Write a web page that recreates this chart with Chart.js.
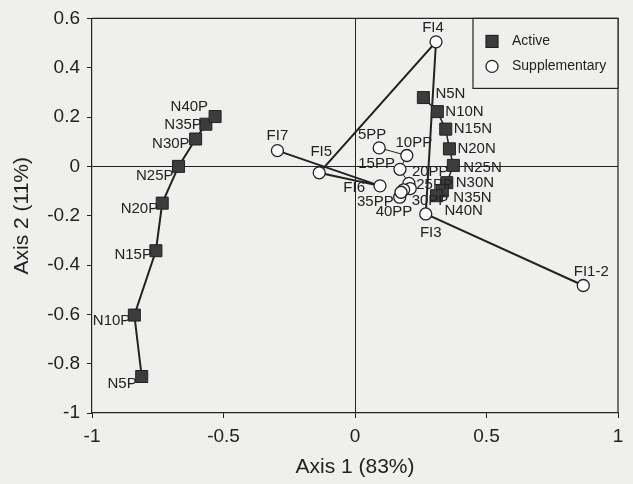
<!DOCTYPE html>
<html>
<head>
<meta charset="utf-8">
<script src="https://cdn.jsdelivr.net/npm/chart.js@4.4.1/dist/chart.umd.min.js"></script>
<style>
  html, body { margin: 0; padding: 0; background: #efefed; }
  #wrap { width: 633px; height: 484px; }
</style>
</head>
<body>
<div id="wrap"><canvas id="chart" width="633" height="484"></canvas></div>
<script>
// Active rows (P series)
const pNames = ['N5P', 'N10P', 'N15P', 'N20P', 'N25P', 'N30P', 'N35P', 'N40P'];
const pX = [-0.811, -0.839, -0.757, -0.733, -0.671, -0.606, -0.567, -0.532];
const pY = [-0.852, -0.603, -0.342, -0.149, 0.0, 0.111, 0.171, 0.202];

// Active rows (N series)
const nNames = ['N5N', 'N10N', 'N15N', 'N20N', 'N25N', 'N30N', 'N35N', 'N40N'];
const nX = [0.26, 0.313, 0.345, 0.359, 0.374, 0.349, 0.332, 0.31];
const nY = [0.279, 0.222, 0.151, 0.071, 0.004, -0.066, -0.099, -0.119];

// Supplementary FI
const fiNames = ['FI1-2', 'FI3', 'FI4', 'FI5', 'FI6', 'FI7'];
const fiX = [0.868, 0.269, 0.308, -0.136, 0.095, -0.295];
const fiY = [-0.483, -0.193, 0.505, -0.026, -0.079, 0.064];

// Supplementary PP
const ppNames = ['5PP', '10PP', '15PP', '20PP', '25PP', '30PP', '35PP', '40PP'];
const ppX = [0.092, 0.197, 0.171, 0.205, 0.21, 0.185, 0.17, 0.175];
const ppY = [0.075, 0.044, -0.012, -0.069, -0.09, -0.095, -0.125, -0.105];

const xTicks = [-1, -0.5, 0, 0.5, 1];
const yTicks = [-1, -0.8, -0.6, -0.4, -0.2, 0, 0.2, 0.4, 0.6];

// label placement: [dx, dy, align]
const labelPos = {
    'N5P': [-5, 7, 'right'], 'N10P': [-4, 6, 'right'], 'N15P': [-4, 4, 'right'], 'N20P': [-4, 6, 'right'],
    'N25P': [-5, 9, 'right'], 'N30P': [-6, 5, 'right'], 'N35P': [-4, 1, 'right'], 'N40P': [-7, -10, 'right'],
    'N5N': [12, -4, 'left'], 'N10N': [8, 0, 'left'], 'N15N': [8, 0, 'left'], 'N20N': [8, 0, 'left'],
    'N25N': [10, 2, 'left'], 'N30N': [9, 0, 'left'], 'N35N': [11, 7, 'left'], 'N40N': [8, 15, 'left'],
    'FI1-2': [8, -14, 'center'], 'FI3': [5, 19, 'center'], 'FI4': [-3, -14, 'center'],
    'FI5': [2, -21, 'center'], 'FI6': [-15, 2, 'right'], 'FI7': [0, -15, 'center'],
    '5PP': [-7, -13, 'center'], '10PP': [7, -13, 'center'], '15PP': [-5, -5, 'right'], '20PP': [3, -12, 'left'],
    '25PP': [6, -4, 'left'], '30PP': [8, 11, 'left'], '35PP': [-6, 5, 'right'], '40PP': [-7, 20, 'center']
};

const ink = '#222';
const font = 'Liberation Sans, Arial, sans-serif';

function pts(xs, ys) {
    return xs.map((x, i) => ({ x: x, y: ys[i] }));
}

const activeStyle = { pointStyle: 'rect', pointRadius: 8.5, pointBackgroundColor: '#3c3c3c', pointBorderColor: ink, pointBorderWidth: 1 };
const suppStyle = { pointStyle: 'circle', pointRadius: 6, pointBackgroundColor: '#fbfbfb', pointBorderColor: ink, pointBorderWidth: 1.3 };

const pointLabels = {
    id: 'pointLabels',
    afterDatasetsDraw(chart) {
        const ctx = chart.ctx;
        ctx.save();
        ctx.font = '15px ' + font;
        ctx.fillStyle = ink;
        ctx.textBaseline = 'middle';
        chart.data.datasets.forEach((ds, di) => {
            const meta = chart.getDatasetMeta(di);
            meta.data.forEach((el, i) => {
                const name = ds.names[i];
                const p = labelPos[name] || [8, 0, 'left'];
                ctx.textAlign = p[2];
                ctx.fillText(name, el.x + p[0], el.y + p[1]);
            });
        });
        ctx.restore();
    }
};

const frameAndLegend = {
    id: 'frameAndLegend',
    afterDraw(chart) {
        const ctx = chart.ctx;
        const a = chart.chartArea;
        ctx.save();
        ctx.strokeStyle = ink;
        ctx.lineWidth = 1.2;
        ctx.beginPath();
        ctx.moveTo(a.left, a.top);
        ctx.lineTo(a.right, a.top);
        ctx.lineTo(a.right, a.bottom);
        ctx.stroke();

        // legend box
        const bx = a.left + 381, by = a.top, bw = a.right - a.left - 381, bh = 70;
        ctx.fillStyle = '#efefed';
        ctx.fillRect(bx, by, bw, bh);
        ctx.strokeRect(bx, by, bw, bh);
        ctx.fillStyle = '#3c3c3c';
        ctx.fillRect(bx + 13, by + 17, 12, 12);
        ctx.strokeRect(bx + 13, by + 17, 12, 12);
        ctx.beginPath();
        ctx.arc(bx + 19, by + 48, 6, 0, Math.PI * 2);
        ctx.fillStyle = '#fbfbfb';
        ctx.fill();
        ctx.lineWidth = 1.3;
        ctx.stroke();
        ctx.fillStyle = ink;
        ctx.font = '14px ' + font;
        ctx.textAlign = 'left';
        ctx.textBaseline = 'middle';
        ctx.fillText('Active', bx + 39, by + 23);
        ctx.fillText('Supplementary', bx + 39, by + 48);
        ctx.restore();
    }
};

new Chart(document.getElementById('chart'), {
    type: 'scatter',
    data: {
        datasets: [
            Object.assign({ label: 'Active', names: pNames, data: pts(pX, pY), showLine: true, borderColor: ink, borderWidth: 2 }, activeStyle),
            Object.assign({ label: 'Active N', names: nNames, data: pts(nX, nY), showLine: true, borderColor: ink, borderWidth: 1.5 }, activeStyle),
            Object.assign({ label: 'Supplementary', names: fiNames, data: pts(fiX, fiY), showLine: true, borderColor: ink, borderWidth: 2 }, suppStyle),
            Object.assign({ label: 'Supplementary PP', names: ppNames, data: pts(ppX, ppY), showLine: true, borderColor: ink, borderWidth: 1 }, suppStyle)
        ]
    },
    options: {
        responsive: false,
        animation: false,
        layout: { padding: { top: 14, right: 15, left: 0, bottom: 0 } },
        plugins: {
            legend: { display: false },
            tooltip: { enabled: false }
        },
        scales: {
            x: {
                type: 'linear',
                min: -1,
                max: 1,
                afterBuildTicks: s => { s.ticks = xTicks.map(v => ({ value: v })); },
                afterFit: s => { s.height = 71; },
                grid: {
                    color: c => (c.tick && c.tick.value === 0 ? ink : 'rgba(0,0,0,0)'),
                    tickColor: ink,
                    tickLength: 5,
                    lineWidth: 1
                },
                border: { display: true, color: ink, width: 1.2 },
                ticks: {
                    color: ink,
                    padding: 7,
                    font: { family: font, size: 19 },
                    callback: v => String(Number(v.toFixed(1)))
                },
                title: {
                    display: true,
                    text: 'Axis 1 (83%)',
                    color: ink,
                    font: { family: font, size: 21 },
                    padding: { top: 4, bottom: 4 }
                }
            },
            y: {
                type: 'linear',
                min: -1,
                max: 0.6,
                afterBuildTicks: s => { s.ticks = yTicks.map(v => ({ value: v })); },
                afterFit: s => { s.width = 92; },
                grid: {
                    color: c => (c.tick && c.tick.value === 0 ? ink : 'rgba(0,0,0,0)'),
                    tickColor: ink,
                    tickLength: 5,
                    lineWidth: 1
                },
                border: { display: true, color: ink, width: 1.2 },
                ticks: {
                    color: ink,
                    padding: 7,
                    font: { family: font, size: 19 },
                    callback: v => String(Number(v.toFixed(1)))
                },
                title: {
                    display: true,
                    text: 'Axis 2 (11%)',
                    color: ink,
                    font: { family: font, size: 21 },
                    padding: { top: 10, bottom: 4 }
                }
            }
        }
    },
    plugins: [pointLabels, frameAndLegend]
});
</script>
</body>
</html>
